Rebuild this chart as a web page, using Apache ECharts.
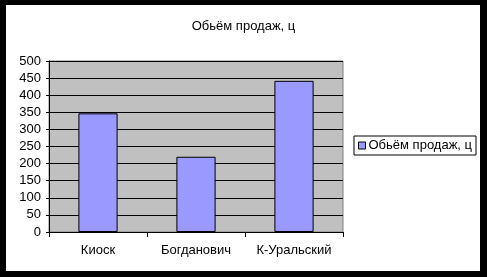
<!DOCTYPE html>
<html><head><meta charset="utf-8">
<script src="https://cdn.jsdelivr.net/npm/echarts@6/dist/echarts.min.js"></script>
<style>html,body{margin:0;padding:0;background:#000}#c{width:487px;height:277px}</style>
</head><body><div id="c"></div>
<script>
var titleText = 'Обьём продаж, ц';
var seriesName = 'Обьём продаж, ц';
var categories = ['Киоск', 'Богданович', 'К-Уральский'];
var values = [347, 220, 442];
var yTicks = {min: 0, max: 500, interval: 50};
var FONT = 'Liberation Sans, Arial, sans-serif';

var chart = echarts.init(document.getElementById('c'));
chart.setOption({
  backgroundColor: '#000',
  animation: false,
  graphic: [{type: 'rect', z: -10, silent: true, shape: {x: 6, y: 5, width: 474, height: 266}, style: {fill: '#fff'}}],
  title: {text: titleText, left: 'center', top: 15, textStyle: {fontFamily: FONT, fontSize: 13, fontWeight: 'normal', color: '#000'}},
  legend: {
    left: 354, top: 136, orient: 'vertical',
    borderColor: '#000', borderWidth: 1, padding: [3, 4, 3, 4],
    itemWidth: 7, itemHeight: 7, itemGap: 0, icon: 'rect',
    itemStyle: {borderColor: '#000', borderWidth: 1},
    textStyle: {fontFamily: FONT, fontSize: 13, color: '#000', padding: [0, 0, 0, -2]},
    data: [seriesName]
  },
  grid: {left: 49, top: 61, width: 294, height: 171, show: true, backgroundColor: '#C0C0C0', borderColor: '#808080', borderWidth: 1},
  xAxis: {
    type: 'category', data: categories,
    axisLine: {lineStyle: {color: '#000', width: 1}},
    axisTick: {show: true, alignWithLabel: false, length: 5, lineStyle: {color: '#000'}},
    axisLabel: {fontFamily: FONT, fontSize: 13, color: '#000', margin: 12}
  },
  yAxis: {
    type: 'value', min: yTicks.min, max: yTicks.max, interval: yTicks.interval,
    axisLine: {show: true, lineStyle: {color: '#000', width: 1}},
    axisTick: {show: true, length: 3, lineStyle: {color: '#000'}},
    axisLabel: {fontFamily: FONT, fontSize: 13, color: '#000', margin: 8},
    splitLine: {show: true, lineStyle: {color: '#000', width: 1}}
  },
  series: [{
    name: seriesName, type: 'bar', data: values, barWidth: '40%',
    itemStyle: {color: '#9999FF', borderColor: '#000', borderWidth: 1}
  }]
});
</script></body></html>
